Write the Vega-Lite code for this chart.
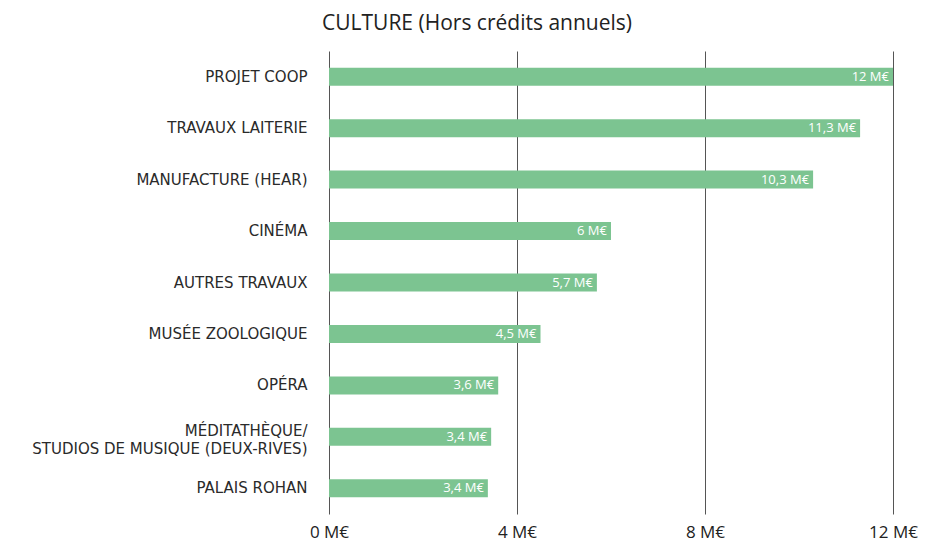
{
  "$schema": "https://vega.github.io/schema/vega-lite/v6.json",
  "width": 564,
  "height": 463,
  "autosize": {"type": "none"},
  "padding": {"left": 329, "top": 51, "right": 54, "bottom": 29},
  "background": "white",
  "title": {
    "text": "CULTURE (Hors crédits annuels)",
    "anchor": "middle",
    "frame": "group",
    "dx": -134,
    "offset": 17,
    "font": "Open Sans",
    "fontSize": 21,
    "fontWeight": "normal",
    "color": "#222222"
  },
  "data": {
    "values": [
      {"projet": "PROJET COOP", "montant": 12.0, "label": "12 M€"},
      {"projet": "TRAVAUX LAITERIE", "montant": 11.3, "label": "11,3 M€"},
      {"projet": "MANUFACTURE (HEAR)", "montant": 10.3, "label": "10,3 M€"},
      {"projet": "CINÉMA", "montant": 6.0, "label": "6 M€"},
      {"projet": "AUTRES TRAVAUX", "montant": 5.7, "label": "5,7 M€"},
      {"projet": "MUSÉE ZOOLOGIQUE", "montant": 4.5, "label": "4,5 M€"},
      {"projet": "OPÉRA", "montant": 3.6, "label": "3,6 M€"},
      {"projet": "MÉDITATHÈQUE/\nSTUDIOS DE MUSIQUE (DEUX-RIVES)", "montant": 3.45, "label": "3,4 M€"},
      {"projet": "PALAIS ROHAN", "montant": 3.38, "label": "3,4 M€"}
    ]
  },
  "encoding": {
    "y": {
      "field": "projet",
      "type": "nominal",
      "sort": ["PROJET COOP", "TRAVAUX LAITERIE", "MANUFACTURE (HEAR)", "CINÉMA", "AUTRES TRAVAUX", "MUSÉE ZOOLOGIQUE", "OPÉRA", "MÉDITATHÈQUE/\nSTUDIOS DE MUSIQUE (DEUX-RIVES)", "PALAIS ROHAN"],
      "scale": {"paddingInner": 0.65, "paddingOuter": 0.325},
      "axis": {
        "title": null,
        "domain": false,
        "ticks": false,
        "labelPadding": 22,
        "labelFont": "DejaVu Sans",
        "labelFontSize": 15,
        "labelFontWeight": "normal",
        "labelColor": "#2a2a2a",
        "labelLineHeight": 18,
        "labelOffset": {"condition": {"test": "indexof(datum.value, 'STUDIOS') >= 0", "value": -6}, "value": 0},
        "labelExpr": "split(datum.label, '\\n')",
        "labelLimit": 400
      }
    },
    "x": {
      "field": "montant",
      "type": "quantitative",
      "scale": {"domain": [0, 12], "nice": false},
      "axis": {
        "title": null,
        "domain": false,
        "ticks": false,
        "values": [0, 4, 8, 12],
        "labelExpr": "datum.value + ' M€'",
        "labelFlush": false,
        "labelFont": "Open Sans",
        "labelFontSize": 17,
        "labelColor": "#222222",
        "labelPadding": 10,
        "grid": true,
        "gridColor": "#555555",
        "gridWidth": 1,
        "gridOpacity": 1
      }
    }
  },
  "layer": [
    {"mark": {"type": "bar", "color": "#7cc491"}},
    {
      "mark": {"type": "text", "align": "right", "dx": -4, "font": "Open Sans", "fontSize": 13, "color": "white", "baseline": "middle"},
      "encoding": {"text": {"field": "label"}}
    }
  ],
  "config": {"view": {"stroke": null}}
}
